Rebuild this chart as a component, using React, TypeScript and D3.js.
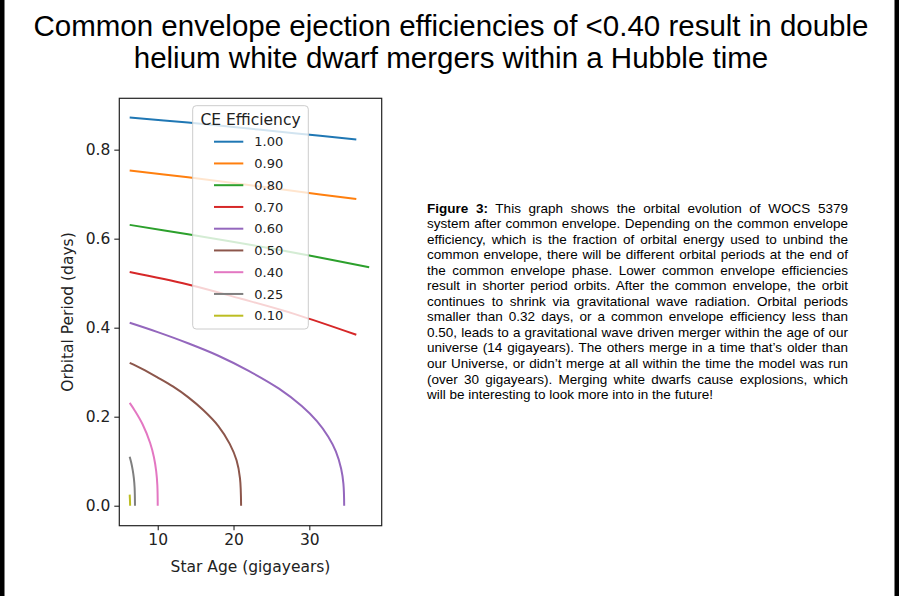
import React, { useRef, useEffect } from "react";
import * as d3 from "d3";

const W = 899;
const H = 596;

// legend labels (CE efficiency), top to bottom
const efficiencies = ["1.00", "0.90", "0.80", "0.70", "0.60", "0.50", "0.40", "0.25", "0.10"];

// star age (gigayears) / orbital period (days)
const age100 = [6.3, 14, 21, 28, 36.2];
const period100 = [0.872, 0.861, 0.849, 0.837, 0.823];
const age090 = [6.3, 14, 21, 28, 36.2];
const period090 = [0.753, 0.738, 0.723, 0.707, 0.689];
const age080 = [6.3, 14, 22, 30, 37.9];
const period080 = [0.631, 0.61, 0.587, 0.562, 0.536];
const age070 = [6.3, 14, 21, 28, 36.2];
const period070 = [0.525, 0.497, 0.465, 0.431, 0.384];
const age060 = [6.3, 10, 14, 18, 22, 26, 29, 31, 32.5, 33.5, 34.2, 34.5, 34.6];
const period060 = [0.411, 0.39, 0.365, 0.337, 0.303, 0.263, 0.224, 0.19, 0.155, 0.122, 0.083, 0.049, 0.0];
const age050 = [6.3, 8, 10, 12, 14, 16, 18, 19.5, 20.4, 20.85, 21.0];
const period050 = [0.321, 0.307, 0.288, 0.268, 0.244, 0.215, 0.179, 0.139, 0.102, 0.062, 0.0];
const age040 = [6.3, 7, 8, 9, 9.5, 9.8, 9.95, 10.0];
const period040 = [0.231, 0.213, 0.183, 0.141, 0.109, 0.077, 0.046, 0.0];
const age025 = [6.3, 6.5, 6.7, 6.85, 6.95, 7.0];
const period025 = [0.11, 0.097, 0.08, 0.062, 0.041, 0.0];
const age010 = [6.3, 6.33, 6.36];
const period010 = [0.025, 0.015, 0.0];

const seriesAges = [age100, age090, age080, age070, age060, age050, age040, age025, age010];
const seriesPeriods = [period100, period090, period080, period070, period060, period050, period040, period025, period010];

const xTicks = [10, 20, 30];
const yTicks = [0.0, 0.2, 0.4, 0.6, 0.8];

const colors = ["#1f77b4", "#ff7f0e", "#2ca02c", "#d62728", "#9467bd", "#8c564b", "#e377c2", "#7f7f7f", "#bcbd22"];

const titleLines = [
  "Common envelope ejection efficiencies of <0.40 result in double",
  "helium white dwarf mergers within a Hubble time",
];

// caption, first line gets a bold "Figure 3:" prefix
const captionLead = "Figure 3:";
const captionLines = [
  " This graph shows the orbital evolution of WOCS 5379",
  "system after common envelope. Depending on the common envelope",
  "efficiency, which is the fraction of orbital energy used to unbind the",
  "common envelope, there will be different orbital periods at the end of",
  "the common envelope phase. Lower common envelope efficiencies",
  "result in shorter period orbits. After the common envelope, the orbit",
  "continues to shrink via gravitational wave radiation. Orbital periods",
  "smaller than 0.32 days, or a common envelope efficiency less than",
  "0.50, leads to a gravitational wave driven merger within the age of our",
  "universe (14 gigayears). The others merge in a time that\u2019s older than",
  "our Universe, or didn\u2019t merge at all within the time the model was run",
  "(over 30 gigayears). Merging white dwarfs cause explosions, which",
  "will be interesting to look more into in the future!",
];

const mplFont = "'DejaVu Sans', sans-serif";
const arial = "'Liberation Sans', Arial, sans-serif";

// plot frame in page pixels
const frame = { left: 119.3, right: 381.7, top: 98.3, bottom: 525.7 };
const captionX = 427;
const captionW = 421;

export default function App() {
  const xAxisRef = useRef<SVGGElement>(null);
  const yAxisRef = useRef<SVGGElement>(null);
  const captionRef = useRef<SVGGElement>(null);

  const x = d3.scaleLinear().domain([4.93, 39.55]).range([frame.left, frame.right]);
  const y = d3.scaleLinear().domain([-0.0449, 0.9154]).range([frame.bottom, frame.top]);

  const line = d3
    .line<[number, number]>()
    .x((d) => x(d[0]))
    .y((d) => y(d[1]))
    .curve(d3.curveCatmullRom.alpha(0.5));

  useEffect(() => {
    // axes
    const xg = d3.select(xAxisRef.current);
    xg.selectAll("*").remove();
    xg.call(d3.axisBottom(x).tickValues(xTicks).tickSize(4.5).tickPadding(4).tickFormat(d3.format("d")));
    const yg = d3.select(yAxisRef.current);
    yg.selectAll("*").remove();
    yg.call(d3.axisLeft(y).tickValues(yTicks).tickSize(5).tickPadding(4).tickFormat(d3.format(".1f")));
    [xg, yg].forEach((g) => {
      g.select(".domain").remove();
      g.selectAll(".tick line").attr("stroke", "#222").attr("stroke-width", 1.1);
      g.selectAll(".tick text")
        .attr("fill", "#222")
        .style("font-family", mplFont)
        .style("font-size", "15.5px");
    });

    // justify the caption lines (all but the last)
    const n = captionLines.length;
    d3.select(captionRef.current)
      .selectAll<SVGTextElement, unknown>("text")
      .each(function (_, i) {
        if (i === n - 1) return;
        this.style.wordSpacing = "0px";
        const natural = this.getComputedTextLength();
        const spaces = (this.textContent || "").split(" ").length - 1;
        if (spaces > 0) this.style.wordSpacing = (captionW - natural) / spaces + "px";
      });
  }, []);

  const legendTop = 105.7;
  const entryY = (i: number) => 141.7 + i * 21.75;

  return (
    <svg
      width={W}
      height={H}
      style={{ position: "absolute", left: 0, top: 0, background: "#fff" }}
    >
      <rect x={0} y={0} width={W} height={H} fill="#fff" />
      <rect x={0} y={0} width={4.5} height={H} fill="#000" />
      <rect x={894.5} y={0} width={4.5} height={H} fill="#000" />

      {/* slide title */}
      {titleLines.map((t, i) => (
        <text
          key={i}
          x={451}
          y={35.5 + i * 32.5}
          textAnchor="middle"
          fontFamily={arial}
          fontSize={29.5}
          fill="#000"
        >
          {t}
        </text>
      ))}

      {/* curves */}
      <g>
        {seriesAges.map((ages, i) => (
          <path
            key={i}
            d={line(ages.map((a, j) => [a, seriesPeriods[i][j]] as [number, number])) || ""}
            fill="none"
            stroke={colors[i]}
            strokeWidth={2}
          />
        ))}
      </g>

      {/* legend */}
      <g>
        <rect
          x={192.7}
          y={legendTop}
          width={115.6}
          height={223.3}
          rx={3.5}
          fill="#fff"
          fillOpacity={0.8}
          stroke="#cccccc"
          strokeWidth={1}
        />
        <text x={250.5} y={124.5} textAnchor="middle" fontFamily={mplFont} fontSize={15.5} fill="#222">
          CE Efficiency
        </text>
        {efficiencies.map((e, i) => (
          <g key={e}>
            <line x1={214} x2={243.3} y1={entryY(i)} y2={entryY(i)} stroke={colors[i]} strokeWidth={2} />
            <text
              x={254.3}
              y={entryY(i)}
              dy="0.35em"
              fontFamily={mplFont}
              fontSize={13}
              fill="#222"
            >
              {e}
            </text>
          </g>
        ))}
      </g>

      {/* frame */}
      <rect
        x={frame.left}
        y={frame.top}
        width={frame.right - frame.left}
        height={frame.bottom - frame.top}
        fill="none"
        stroke="#222"
        strokeWidth={1.2}
      />
      <g ref={xAxisRef} transform={`translate(0,${frame.bottom})`} />
      <g ref={yAxisRef} transform={`translate(${frame.left},0)`} />

      <text x={250.5} y={572} textAnchor="middle" fontFamily={mplFont} fontSize={15.5} fill="#222">
        Star Age (gigayears)
      </text>
      <text
        transform={`translate(73,312) rotate(-90)`}
        textAnchor="middle"
        fontFamily={mplFont}
        fontSize={15.5}
        fill="#222"
      >
        Orbital Period (days)
      </text>

      {/* caption */}
      <g ref={captionRef}>
        {captionLines.map((t, i) => (
          <text
            key={i}
            x={captionX}
            y={212.5 + i * 15.55}
            fontFamily={arial}
            fontSize={13.5}
            fill="#000"
          >
            {i === 0 ? (
              <>
                <tspan fontWeight="bold">{captionLead}</tspan>
                {t}
              </>
            ) : (
              t
            )}
          </text>
        ))}
      </g>
    </svg>
  );
}
